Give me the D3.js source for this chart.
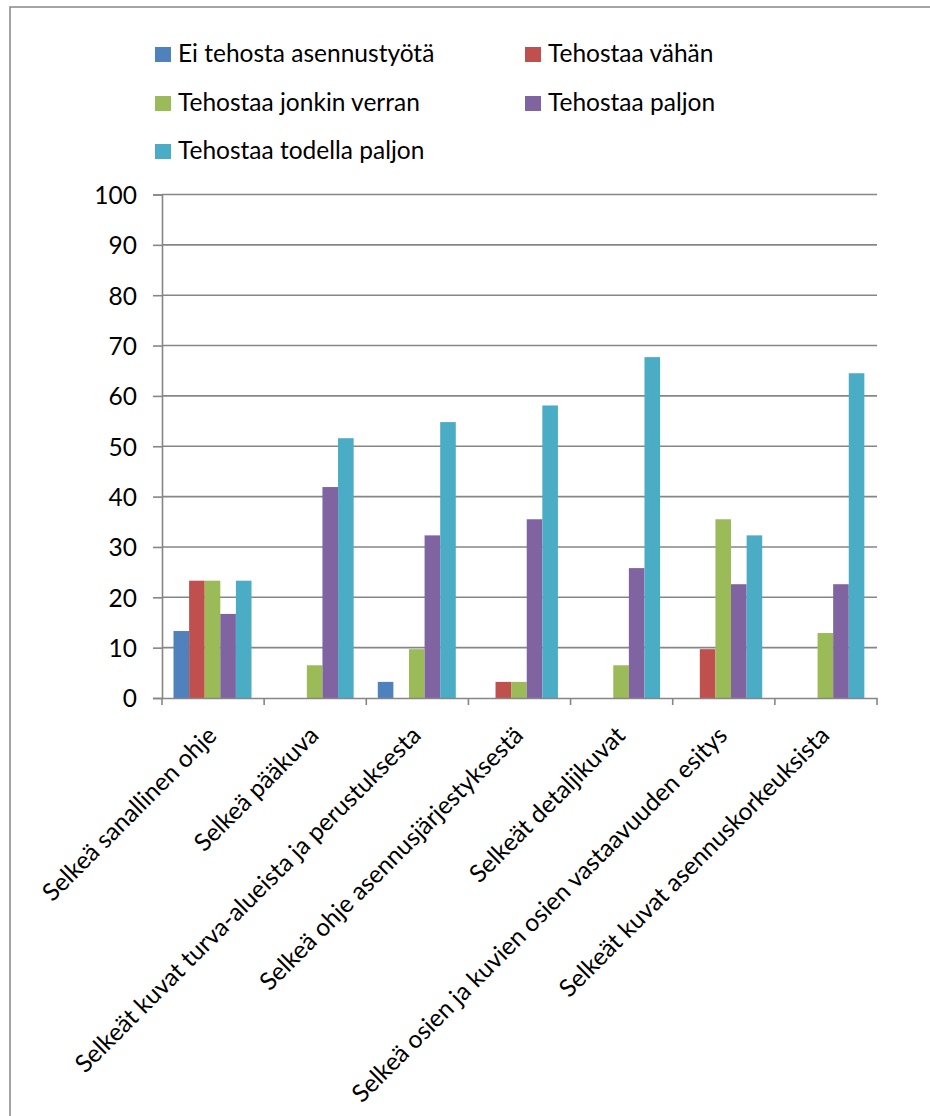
<!DOCTYPE html>
<html><head><meta charset="utf-8">
<script src="https://cdn.jsdelivr.net/npm/d3@7"></script>
<style>html,body{margin:0;padding:0;background:#fff;} svg{display:block;}</style>
</head><body>
<svg id="chart" width="930" height="1116"></svg>
<script>
const categories = [
  "Selkeä sanallinen ohje",
  "Selkeä pääkuva",
  "Selkeät kuvat turva-alueista ja perustuksesta",
  "Selkeä ohje asennusjärjestyksestä",
  "Selkeät detaljikuvat",
  "Selkeä osien ja kuvien osien vastaavuuden esitys",
  "Selkeät kuvat asennuskorkeuksista"
];
const seriesNames = ["Ei tehosta asennustyötä","Tehostaa vähän","Tehostaa jonkin verran","Tehostaa paljon","Tehostaa todella paljon"];
const seriesColors = ["#4F81BD","#C0504D","#9BBB59","#8064A2","#4BACC6"];
const eiTehosta      = [13.3, 0,    3.2,  0,    0,    0,    0];
const tehostaaVahan  = [23.3, 0,    0,    3.2,  0,    9.7,  0];
const jonkinVerran   = [23.3, 6.5,  9.7,  3.2,  6.5,  35.5, 12.9];
const paljon         = [16.7, 41.9, 32.3, 35.5, 25.8, 22.6, 22.6];
const todellaPaljon  = [23.3, 51.6, 54.8, 58.1, 67.7, 32.3, 64.5];
const yTicks = [0,10,20,30,40,50,60,70,80,90,100];

const seriesValues = [eiTehosta, tehostaaVahan, jonkinVerran, paljon, todellaPaljon];
const FONT = "Lato, 'Open Sans', sans-serif";
const FS = 24.5;
const svg = d3.select("#chart");
const gridColor = "#868686";

// frame
svg.append("path").attr("d","M10,1116 L10,7 L930,7").attr("fill","none").attr("stroke",gridColor).attr("stroke-width",1.5);

const x0 = d3.scaleBand().domain(categories).range([162, 877]).padding(0);
const x1 = d3.scaleBand().domain(d3.range(seriesNames.length)).range([11.5, 11.5+78]).padding(0);
const y = d3.scaleLinear().domain([0,100]).range([698, 194.5]);

// gridlines
svg.append("g").selectAll("line").data(yTicks.filter(d=>d>0)).join("line")
  .attr("x1",162).attr("x2",877).attr("y1",d=>y(d)).attr("y2",d=>y(d))
  .attr("stroke",gridColor).attr("stroke-width",1.6);

// bars
const groups = svg.append("g").selectAll("g").data(categories).join("g")
  .attr("transform", c=>`translate(${x0(c)},0)`);
groups.selectAll("rect").data((c,i)=>seriesValues.map((s,k)=>({k, v:s[i]})).filter(d=>d.v>0))
  .join("rect")
  .attr("x", d=>x1(d.k)).attr("width", x1.bandwidth())
  .attr("y", d=>y(d.v)).attr("height", d=>y(0)-y(d.v))
  .attr("fill", d=>seriesColors[d.k]);

// y axis
const yAxis = d3.axisLeft(y).tickValues(yTicks).tickSize(9).tickPadding(16);
const gy = svg.append("g").attr("transform","translate(162,0)").call(yAxis);
gy.select(".domain").attr("stroke",gridColor).attr("stroke-width",1.6);
gy.selectAll(".tick line").attr("stroke",gridColor).attr("stroke-width",1.6);
gy.selectAll(".tick text").attr("font-family",FONT).attr("font-size",FS).attr("fill","#000").attr("dy","0.36em");

// x axis
const xAxis = d3.axisBottom(x0).tickSize(0).tickFormat("");
const gx = svg.append("g").attr("transform","translate(0,698)").call(xAxis);
gx.select(".domain").attr("stroke",gridColor).attr("stroke-width",1.6);
gx.selectAll(".tick").remove();
const edges = categories.map(c=>x0(c)).concat([x0.range()[1]]);
gx.selectAll("line.edge").data(edges).join("line").attr("class","edge")
  .attr("x1",d=>d).attr("x2",d=>d).attr("y1",0).attr("y2",7)
  .attr("stroke",gridColor).attr("stroke-width",1.6);

// category labels
svg.append("g").selectAll("text").data(categories).join("text")
  .attr("transform", c=>`translate(${x0(c)+x0.bandwidth()/2-8},${724}) rotate(-45)`)
  .attr("text-anchor","end").attr("dy","0.75em")
  .attr("font-family",FONT).attr("font-size",FS).attr("fill","#000")
  .text(c=>c);

// legend
const legendPos = [[155,47],[525,47],[155,96],[525,96],[155,144]];
const lg = svg.append("g").selectAll("g").data(seriesNames).join("g")
  .attr("transform",(d,i)=>`translate(${legendPos[i][0]},${legendPos[i][1]})`);
lg.append("rect").attr("width",16).attr("height",15).attr("fill",(d,i)=>seriesColors[i]);
lg.append("text").attr("x",23).attr("y",15).attr("font-family",FONT).attr("font-size",FS).attr("fill","#000").text(d=>d);
</script>
</body></html>
